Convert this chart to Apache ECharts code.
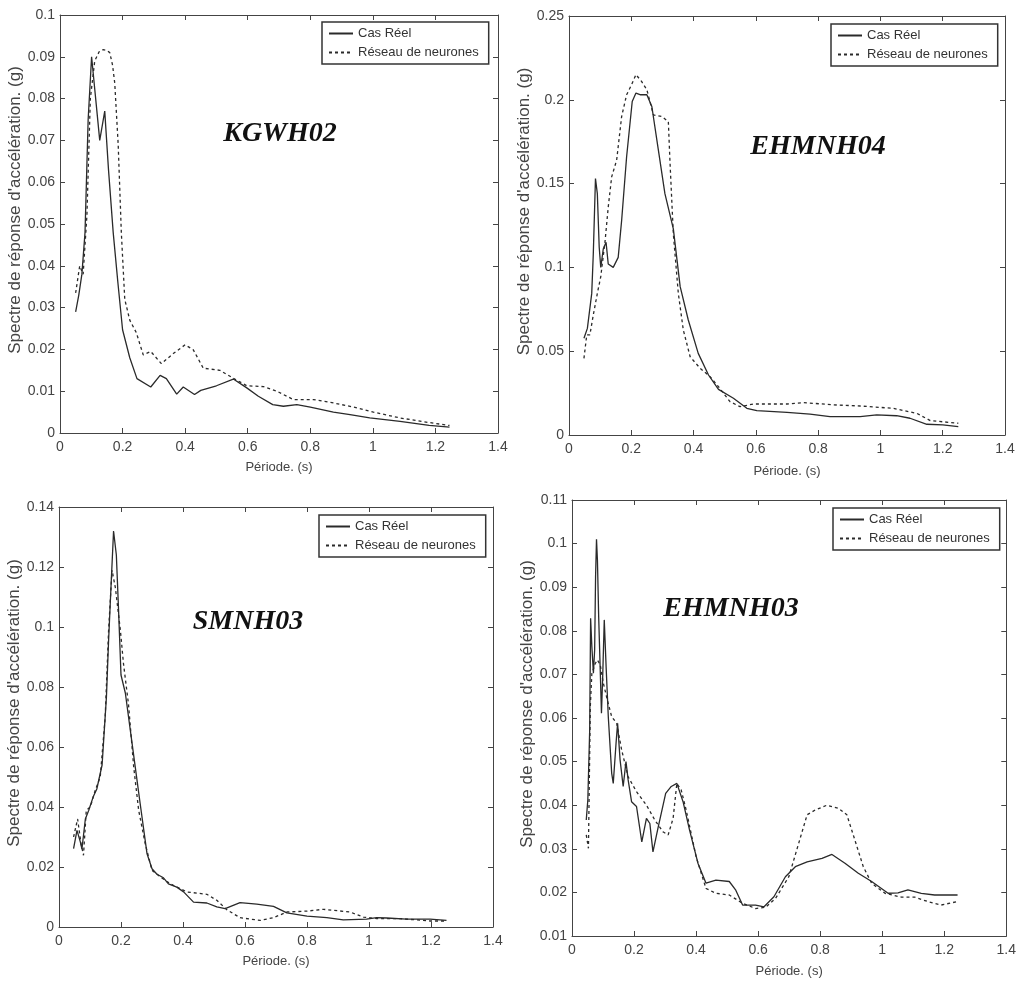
<!DOCTYPE html>
<html>
<head>
<meta charset="utf-8">
<script src="https://cdn.jsdelivr.net/npm/echarts@6/dist/echarts.min.js"></script>
<style>html,body{margin:0;padding:0;background:#fff;}#c{width:1019px;height:982px;}</style>
</head>
<body>
<div id="c"></div>
<script>
// ---------- data ----------
var seriesNames = ['Cas Réel', 'Réseau de neurones'];
var panelTitles = ['KGWH02', 'EHMNH04', 'SMNH03', 'EHMNH03'];
var xTicks = [0, 0.2, 0.4, 0.6, 0.8, 1, 1.2, 1.4];
var yRanges = [[0, 0.1, 0.01], [0, 0.25, 0.05], [0, 0.14, 0.02], [0.01, 0.11, 0.01]];

var p1Real = [[0.05,0.029],[0.06,0.033],[0.07,0.038],[0.08,0.048],[0.09,0.075],[0.101,0.090],[0.127,0.070],[0.143,0.077],[0.155,0.063],[0.17,0.048],[0.185,0.036],[0.2,0.0247],[0.223,0.018],[0.246,0.013],[0.29,0.011],[0.32,0.0138],[0.34,0.013],[0.373,0.0093],[0.394,0.011],[0.43,0.0092],[0.45,0.0102],[0.5,0.0113],[0.554,0.0129],[0.597,0.0108],[0.634,0.0088],[0.68,0.0068],[0.714,0.0064],[0.757,0.0068],[0.8,0.0062],[0.874,0.005],[0.927,0.0044],[0.99,0.0036],[1.087,0.0028],[1.18,0.0018],[1.245,0.0014]];
var p1Net = [[0.05,0.0335],[0.063,0.040],[0.074,0.038],[0.086,0.052],[0.097,0.080],[0.111,0.089],[0.125,0.0912],[0.138,0.0917],[0.15,0.0915],[0.159,0.091],[0.168,0.088],[0.175,0.0837],[0.186,0.069],[0.196,0.048],[0.207,0.032],[0.223,0.027],[0.244,0.024],[0.266,0.0187],[0.29,0.0195],[0.324,0.0166],[0.362,0.019],[0.4,0.0211],[0.426,0.0199],[0.458,0.0155],[0.511,0.015],[0.554,0.0131],[0.597,0.0113],[0.65,0.0111],[0.693,0.010],[0.746,0.008],[0.81,0.008],[0.874,0.0072],[0.938,0.0062],[1.002,0.005],[1.087,0.0036],[1.18,0.0025],[1.245,0.0018]];

var p2Real = [[0.048,0.0577],[0.059,0.0636],[0.073,0.0845],[0.078,0.108],[0.085,0.153],[0.091,0.144],[0.097,0.112],[0.102,0.100],[0.11,0.111],[0.119,0.115],[0.126,0.102],[0.142,0.100],[0.158,0.106],[0.169,0.128],[0.185,0.166],[0.203,0.199],[0.215,0.204],[0.23,0.203],[0.25,0.203],[0.266,0.196],[0.287,0.170],[0.308,0.144],[0.335,0.123],[0.357,0.0885],[0.383,0.0686],[0.415,0.0487],[0.448,0.0358],[0.48,0.0272],[0.528,0.0219],[0.571,0.0159],[0.603,0.0145],[0.7,0.0135],[0.774,0.0125],[0.838,0.011],[0.935,0.011],[0.988,0.012],[1.052,0.0115],[1.095,0.010],[1.149,0.0064],[1.2,0.006],[1.25,0.005]];
var p2Net = [[0.048,0.0457],[0.057,0.0597],[0.067,0.0597],[0.078,0.0716],[0.091,0.0845],[0.102,0.0945],[0.116,0.116],[0.126,0.136],[0.137,0.154],[0.153,0.164],[0.169,0.19],[0.185,0.203],[0.201,0.209],[0.215,0.215],[0.233,0.211],[0.25,0.206],[0.271,0.191],[0.298,0.19],[0.319,0.187],[0.324,0.164],[0.335,0.120],[0.351,0.0845],[0.367,0.0627],[0.389,0.0467],[0.421,0.0398],[0.453,0.0348],[0.48,0.0288],[0.517,0.0199],[0.549,0.0169],[0.592,0.0185],[0.7,0.0185],[0.753,0.0193],[0.86,0.0179],[0.935,0.0173],[1.042,0.0159],[1.117,0.0129],[1.16,0.0086],[1.25,0.007]];

var p3Real = [[0.047,0.0261],[0.058,0.0322],[0.069,0.0283],[0.074,0.026],[0.085,0.036],[0.096,0.0389],[0.11,0.0433],[0.122,0.046],[0.139,0.054],[0.153,0.0767],[0.16,0.0956],[0.168,0.114],[0.176,0.132],[0.185,0.124],[0.192,0.106],[0.2,0.084],[0.214,0.078],[0.23,0.0656],[0.246,0.0533],[0.262,0.041],[0.284,0.0244],[0.3,0.0194],[0.316,0.0176],[0.337,0.0164],[0.353,0.0144],[0.38,0.0133],[0.402,0.0117],[0.434,0.0083],[0.477,0.008],[0.509,0.0067],[0.536,0.0061],[0.584,0.0081],[0.638,0.0076],[0.692,0.0069],[0.735,0.0047],[0.8,0.0036],[0.864,0.0031],[0.917,0.0024],[0.992,0.0026],[1.025,0.0031],[1.057,0.003],[1.121,0.0026],[1.197,0.0026],[1.25,0.0022]];
var p3Net = [[0.047,0.030],[0.06,0.036],[0.071,0.0278],[0.079,0.0239],[0.088,0.0389],[0.101,0.040],[0.117,0.0456],[0.133,0.050],[0.149,0.070],[0.16,0.0989],[0.171,0.119],[0.182,0.113],[0.198,0.0989],[0.208,0.0878],[0.224,0.0744],[0.241,0.0533],[0.257,0.0389],[0.278,0.0278],[0.3,0.0189],[0.327,0.0167],[0.359,0.0144],[0.391,0.0128],[0.412,0.0117],[0.477,0.0109],[0.509,0.0089],[0.541,0.0058],[0.584,0.0031],[0.649,0.0022],[0.692,0.0031],[0.735,0.005],[0.8,0.0053],[0.853,0.0059],[0.939,0.005],[0.982,0.0033],[1.025,0.0028],[1.1,0.0028],[1.197,0.002],[1.25,0.002]];

var p4Real = [[0.046,0.0366],[0.051,0.0412],[0.057,0.0572],[0.06,0.0829],[0.064,0.0764],[0.069,0.0703],[0.073,0.0756],[0.076,0.0924],[0.079,0.101],[0.082,0.0962],[0.086,0.0832],[0.091,0.071],[0.095,0.0611],[0.099,0.0695],[0.104,0.0825],[0.11,0.0717],[0.117,0.0603],[0.128,0.0473],[0.133,0.045],[0.142,0.0542],[0.147,0.0588],[0.155,0.0504],[0.165,0.0443],[0.174,0.050],[0.181,0.0458],[0.192,0.0408],[0.208,0.0397],[0.225,0.0316],[0.24,0.037],[0.251,0.0358],[0.261,0.0293],[0.277,0.0347],[0.302,0.0427],[0.32,0.0443],[0.338,0.045],[0.358,0.0408],[0.379,0.0343],[0.406,0.0267],[0.432,0.0221],[0.464,0.0228],[0.507,0.0225],[0.528,0.0205],[0.55,0.0171],[0.592,0.0171],[0.619,0.0167],[0.651,0.019],[0.688,0.0236],[0.72,0.0259],[0.758,0.027],[0.806,0.0278],[0.838,0.0287],[0.88,0.0267],[0.923,0.0244],[0.966,0.0225],[1.019,0.0198],[1.051,0.0199],[1.083,0.0206],[1.126,0.0198],[1.169,0.0194],[1.243,0.0194]];
var p4Net = [[0.046,0.0332],[0.053,0.0301],[0.059,0.0626],[0.064,0.0702],[0.075,0.0725],[0.082,0.0733],[0.091,0.0722],[0.101,0.068],[0.114,0.0641],[0.128,0.0603],[0.144,0.0588],[0.16,0.0527],[0.181,0.0465],[0.208,0.0431],[0.24,0.040],[0.267,0.0366],[0.293,0.0339],[0.31,0.0332],[0.326,0.037],[0.338,0.045],[0.352,0.0435],[0.368,0.0389],[0.4,0.0282],[0.432,0.0209],[0.464,0.0198],[0.507,0.0194],[0.55,0.0175],[0.592,0.0163],[0.624,0.0166],[0.656,0.0186],[0.699,0.0236],[0.731,0.0313],[0.758,0.0378],[0.784,0.0389],[0.822,0.040],[0.859,0.0393],[0.886,0.0378],[0.912,0.032],[0.939,0.0259],[0.966,0.0221],[1.009,0.0198],[1.062,0.0189],[1.105,0.0189],[1.147,0.0179],[1.19,0.0171],[1.243,0.0179]];

var realData = [p1Real, p2Real, p3Real, p4Real];
var netData = [p1Net, p2Net, p3Net, p4Net];

// ---------- layout ----------
var grids = [
  {left: 60, top: 15, width: 438, height: 418},
  {left: 569, top: 16, width: 436, height: 419},
  {left: 59, top: 507, width: 434, height: 420},
  {left: 572, top: 500, width: 437, height: 436}
];
var legendPos = [[322, 22], [831, 24], [319, 515], [833, 508]];
var titlePos = [[275, 115], [813, 128], [243, 603], [726, 590]];
var yNameGaps = [36, 32, 33, 35];
var xNameGaps = [28, 30, 28, 29];

var FONT = "'Liberation Sans', Arial, sans-serif";
var AX = '#444';
var TXT = '#444';
var LINE = '#2a2a2a';

var option = {
  backgroundColor: '#fff',
  animation: false,
  grid: [], xAxis: [], yAxis: [], series: [], legend: [], title: []
};

grids.forEach(function (g, i) {
  option.grid.push({left: g.left, top: g.top, width: g.width, height: g.height, containLabel: false});
  var yr = yRanges[i];
  var common = {
    axisLine: {show: true, onZero: false, lineStyle: {color: AX, width: 1}},
    axisTick: {show: true, inside: true, length: 5, lineStyle: {color: AX}},
    splitLine: {show: false}
  };
  option.xAxis.push(Object.assign({
    type: 'value', gridIndex: i, position: 'bottom',
    min: xTicks[0], max: xTicks[xTicks.length - 1], interval: 0.2,
    axisLabel: {show: true, color: TXT, fontFamily: FONT, fontSize: 14, margin: 7,
      formatter: function (v) { return String(+v.toFixed(2)); }},
    name: 'Période. (s)', nameLocation: 'middle', nameGap: xNameGaps[i],
    nameTextStyle: {color: TXT, fontFamily: FONT, fontSize: 13}
  }, common));
  option.xAxis.push(Object.assign({
    type: 'value', gridIndex: i, position: 'top',
    min: xTicks[0], max: xTicks[xTicks.length - 1], interval: 0.2,
    axisLabel: {show: false}
  }, common));
  option.yAxis.push(Object.assign({
    type: 'value', gridIndex: i, position: 'left',
    min: yr[0], max: yr[1], interval: yr[2],
    axisLabel: {show: true, color: TXT, fontFamily: FONT, fontSize: 14, margin: 5,
      formatter: function (v) { return String(+v.toFixed(3)); }},
    name: "Spectre de réponse d'accélération. (g)", nameLocation: 'middle', nameGap: yNameGaps[i],
    nameTextStyle: {color: TXT, fontFamily: FONT, fontSize: 17, padding: [0, 0, 0, 28]}
  }, common));
  option.yAxis.push(Object.assign({
    type: 'value', gridIndex: i, position: 'right',
    min: yr[0], max: yr[1], interval: yr[2],
    axisLabel: {show: false}
  }, common));

  option.series.push({
    name: seriesNames[0], type: 'line', xAxisIndex: i * 2, yAxisIndex: i * 2,
    data: realData[i], symbol: 'none', showSymbol: false,
    lineStyle: {color: LINE, width: 1.3, type: 'solid'}, itemStyle: {color: LINE}
  });
  option.series.push({
    name: seriesNames[1], type: 'line', xAxisIndex: i * 2, yAxisIndex: i * 2,
    data: netData[i], symbol: 'none', showSymbol: false,
    lineStyle: {color: LINE, width: 1.3, type: [3, 3]}, itemStyle: {color: LINE}
  });

  option.legend.push({
    left: legendPos[i][0], top: legendPos[i][1],
    orient: 'vertical', itemGap: 6, itemWidth: 24, itemHeight: 14,
    padding: [5, 10, 5, 6],
    borderColor: '#333', borderWidth: 1.5, backgroundColor: '#fff',
    itemStyle: {opacity: 0},
    textStyle: {color: '#333', fontFamily: FONT, fontSize: 13},
    data: seriesNames.slice(),
    selectedMode: false
  });

  option.title.push({
    text: panelTitles[i], left: titlePos[i][0], top: titlePos[i][1], textAlign: 'center',
    textStyle: {fontFamily: "'Liberation Serif', 'Times New Roman', serif", fontStyle: 'italic',
      fontWeight: 'bold', fontSize: 28, color: '#111'}
  });
});

var chart = echarts.init(document.getElementById('c'), null, {renderer: 'canvas'});
chart.setOption(option);
</script>
</body>
</html>
